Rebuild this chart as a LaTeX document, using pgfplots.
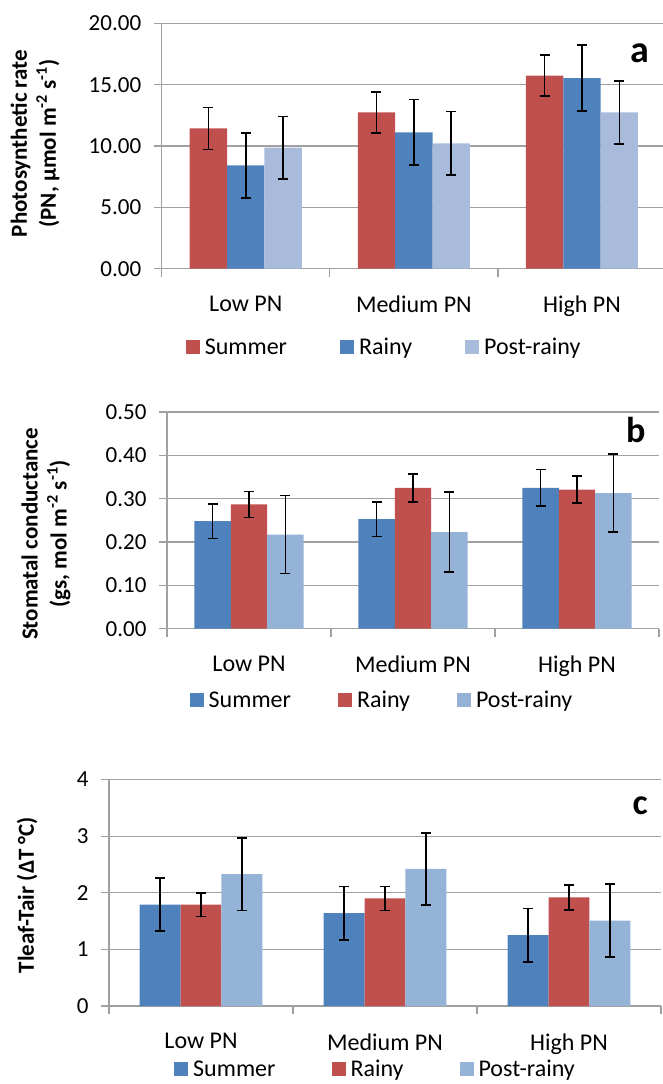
\documentclass[border=0pt]{standalone}
\usepackage{pgfplots}
\pgfplotsset{compat=1.18}
\usepackage{fontspec}
\setmainfont{Carlito}
\definecolor{cred}{HTML}{C0504D}
\definecolor{cblue}{HTML}{4F81BD}
\definecolor{clightA}{HTML}{A9BBDB}
\definecolor{clightB}{HTML}{95B3D7}
\definecolor{gridgray}{HTML}{A0A0A0}
\pgfplotsset{
  /pgfplots/ybar legend/.style={/pgfplots/legend image code/.code={\fill[##1,draw=none] (0pt,-7pt) rectangle (14pt,7pt);}},
  eb/.style={
    /pgfplots/error bars/y dir=both, /pgfplots/error bars/y explicit,
    /pgfplots/error bars/error mark=-,
    /pgfplots/error bars/error bar style={draw=black, line width=1.6pt},
    /pgfplots/error bars/error mark options={rotate=90, draw=black, line width=1.6pt, mark size=5pt},
  },
  panel/.style={
    scale only axis, anchor=south west,
    xmin=-0.5, xmax=2.5, ymin=0,
    ybar=0pt,
    axis x line*=bottom, axis y line*=left,
    axis line style={draw=gridgray, line width=1.2pt},
    ymajorgrids, grid style={draw=gridgray, line width=1.2pt},
    xtick={0,1,2}, xticklabels={Low PN, Medium PN, High PN},
    minor xtick={-0.5,0.5,1.5,2.5},
    major x tick style={draw=none},
    tick align=outside, major tick length=8pt, minor tick length=8pt,
    tick style={draw=gridgray, line width=1.2pt},
    /pgf/number format/assume math mode=true,
    yticklabel style={font=\fontsize{23}{23}\selectfont, xshift=-9pt},
    xticklabel style={font=\fontsize{24}{24}\selectfont, yshift=-16pt},
    every axis y label/.style={rotate=90, anchor=center, align=center, font=\fontsize{23}{29}\selectfont\bfseries},
    legend style={draw=none, fill=none, legend columns=3, anchor=center,
      font=\fontsize{24}{24}\selectfont, nodes={inner sep=0pt},
      /tikz/every odd column/.append style={column sep=5pt}},
    legend cell align=left,
  },
}
\begin{document}
\begin{tikzpicture}
\path[use as bounding box] (0pt,0pt) rectangle (663pt,-1084pt);
% ---------------- panel a
\begin{axis}[panel, at={(161.7pt,-268.7pt)}, width=504.3pt, height=245.4pt,
  ymax=20, ytick={0,5,10,15,20}, bar width=37.36pt,
  yticklabel style={/pgf/number format/.cd, fixed, fixed zerofill, precision=2},
  ylabel={Photosynthetic rate\\(PN, µmol m\textsuperscript{-2} s\textsuperscript{-1})},
  ylabel style={at={(axis description cs:-0.251,0.51)}},
  legend style={at={(axis description cs:0.439,-0.319)},
    /tikz/every even column/.append style={column sep=53pt}},
]
\addplot[fill=cred, draw=none, eb] table[x=x, y=y, y error=e] {
x y e
0 11.44 1.71
1 12.74 1.67
2 15.73 1.67
};
\addplot[fill=cblue, draw=none, eb] table[x=x, y=y, y error=e] {
x y e
0 8.42 2.66
1 11.11 2.68
2 15.54 2.70
};
\addplot[fill=clightA, draw=none, eb] table[x=x, y=y, y error=e] {
x y e
0 9.86 2.55
1 10.22 2.60
2 12.74 2.57
};
\legend{Summer, Rainy, Post-rainy}
\node[font=\fontsize{38}{38}\selectfont\bfseries] at (axis description cs:0.948,0.879) {a};
\end{axis}
% ---------------- panel b
\begin{axis}[panel, at={(167pt,-628.7pt)}, width=492pt, height=216.7pt,
  ymax=0.5, ytick={0,0.1,0.2,0.3,0.4,0.5}, bar width=36.44pt,
  yticklabel style={/pgf/number format/.cd, fixed, fixed zerofill, precision=2},
  ylabel={Stomatal conductance\\(gs, mol m\textsuperscript{-2} s\textsuperscript{-1})},
  ylabel style={at={(axis description cs:-0.246,0.437)}},
  legend style={at={(axis description cs:0.435,-0.329)},
    /tikz/every even column/.append style={column sep=47pt}},
]
\addplot[fill=cblue, draw=none, eb] table[x=x, y=y, y error=e] {
x y e
0 0.248 0.040
1 0.253 0.040
2 0.325 0.042
};
\addplot[fill=cred, draw=none, eb] table[x=x, y=y, y error=e] {
x y e
0 0.287 0.030
1 0.325 0.032
2 0.321 0.031
};
\addplot[fill=clightB, draw=none, eb] table[x=x, y=y, y error=e] {
x y e
0 0.217 0.090
1 0.223 0.092
2 0.313 0.090
};
\legend{Summer, Rainy, Post-rainy}
\node[font=\fontsize{36}{36}\selectfont\bfseries] at (axis description cs:0.953,0.917) {b};
\end{axis}
% ---------------- panel c
\begin{axis}[panel, at={(109pt,-1006pt)}, width=552pt, height=226.5pt,
  ymax=4, ytick={0,1,2,3,4}, bar width=40.9pt,
  ylabel={Tleaf-Tair (ΔT °C)},
  ylabel style={at={(axis description cs:-0.1486,0.49)}},
  legend style={at={(axis description cs:0.481,-0.279)},
    /tikz/every even column/.append style={column sep=56pt}},
]
\addplot[fill=cblue, draw=none, eb] table[x=x, y=y, y error=e] {
x y e
0 1.79 0.47
1 1.64 0.47
2 1.25 0.47
};
\addplot[fill=cred, draw=none, eb] table[x=x, y=y, y error=e] {
x y e
0 1.79 0.21
1 1.90 0.21
2 1.92 0.22
};
\addplot[fill=clightB, draw=none, eb] table[x=x, y=y, y error=e] {
x y e
0 2.33 0.64
1 2.42 0.64
2 1.51 0.64
};
\legend{Summer, Rainy, Post-rainy}
\node[font=\fontsize{36}{36}\selectfont\bfseries] at (axis description cs:0.962,0.883) {c};
\end{axis}
\end{tikzpicture}
\end{document}
